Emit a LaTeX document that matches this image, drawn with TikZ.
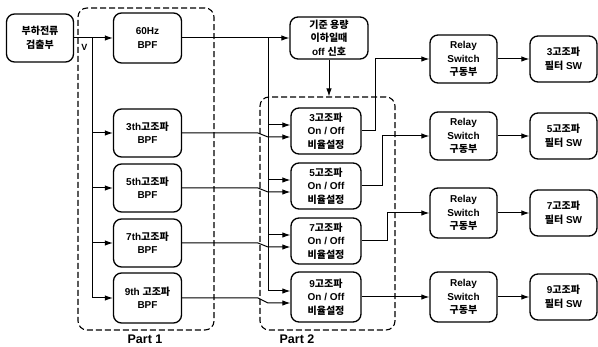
\documentclass[tikz,border=0pt]{standalone}
\usepackage{fontspec}
\setmainfont{Liberation Sans}
\newfontfamily\kr{Noto Sans CJK KR}
\usetikzlibrary{arrows.meta,calc}
\begin{document}
\begin{tikzpicture}[x=1pt,y=-1pt,
  blk/.style={draw,line width=1.3pt,rounded corners=8pt,align=center,inner sep=0pt,
    font=\fontsize{10}{13.5}\selectfont\bfseries,minimum width=68pt,minimum height=48pt},
  partbox/.style={draw,line width=1.1pt,dash pattern=on 6pt off 3pt,rounded corners=9pt,inner sep=0pt},
  arr/.style={line width=1pt,-{Latex[length=8pt,width=5.5pt]}},
  partlab/.style={font=\bfseries\fontsize{12.5}{12.5}\selectfont}]
\useasboundingbox (0,0) rectangle (598,347);

% dashed group boxes
\node[partbox,minimum width=136pt,minimum height=322pt] (p1) at (146,169) {};
\node[partbox,minimum width=135pt,minimum height=233pt] (p2) at (327.5,213.5) {};
\node[partlab] (l1) at (145,339) {Part 1};
\node[partlab] (l2) at (297,339) {Part 2};

% blocks
\node[blk,minimum width=67pt] (det) at (40,38) {{\kr 부하전류}\\{\kr 검출부}};
\node[blk,minimum height=50pt] (bpf60) at (147.5,38) {60Hz\\BPF};
\node[blk] (bpf3) at (147.5,133) {3th{\kr 고조파}\\BPF};
\node[blk] (bpf5) at (147.5,188) {5th{\kr 고조파}\\BPF};
\node[blk] (bpf7) at (147.5,243) {7th{\kr 고조파}\\BPF};
\node[blk,minimum height=50pt] (bpf9) at (147.5,298) {9th {\kr 고조파}\\BPF};

\node[blk,minimum width=78pt,minimum height=42pt] (off) at (329,38) {{\kr 기준 용량}\\{\kr 이하일때}\\off {\kr 신호}};

\node[blk,minimum width=70pt,minimum height=46pt] (on3) at (326,131) {3{\kr 고조파}\\On / Off\\{\kr 비율설정}};
\node[blk,minimum width=70pt,minimum height=46pt] (on5) at (326,186) {5{\kr 고조파}\\On / Off\\{\kr 비율설정}};
\node[blk,minimum width=70pt,minimum height=46pt] (on7) at (326,241) {7{\kr 고조파}\\On / Off\\{\kr 비율설정}};
\node[blk,minimum width=70pt,minimum height=50pt] (on9) at (326,297) {9{\kr 고조파}\\On / Off\\{\kr 비율설정}};

\node[blk,minimum width=67pt] (r1) at (463.5,59) {Relay\\Switch\\{\kr 구동부}};
\node[blk,minimum width=67pt] (r2) at (463.5,136) {Relay\\Switch\\{\kr 구동부}};
\node[blk,minimum width=67pt,minimum height=50pt] (r3) at (463.5,213) {Relay\\Switch\\{\kr 구동부}};
\node[blk,minimum width=67pt,minimum height=50pt] (r4) at (463.5,297) {Relay\\Switch\\{\kr 구동부}};

\node[blk,minimum width=67pt,minimum height=46pt] (s1) at (563.5,59) {3{\kr 고조파}\\{\kr 필터} SW};
\node[blk,minimum width=67pt,minimum height=46pt] (s2) at (563.5,136) {5{\kr 고조파}\\{\kr 필터} SW};
\node[blk,minimum width=67pt,minimum height=46pt] (s3) at (563.5,213) {7{\kr 고조파}\\{\kr 필터} SW};
\node[blk,minimum width=67pt,minimum height=46pt] (s4) at (563.5,297) {9{\kr 고조파}\\{\kr 필터} SW};

% input bus
\draw[arr] (det) -- (bpf60);
\coordinate (bus) at ($(det.east)+(18,0)$);
\node[font=\bfseries\fontsize{9}{9}\selectfont] (vlab) at (84.5,47) {V};
\foreach \b in {bpf3,bpf5,bpf7,bpf9} \draw[arr] (bus) |- (\b.west);

% 60Hz branch
\draw[arr] (bpf60) -- (off);
\coordinate (b60) at (268,38);
\foreach \o in {on3,on5,on7,on9} \draw[arr] (b60) |- ([yshift=6pt]\o.west);

% harmonic inputs with jog
\coordinate (jx) at (258,0);
\coordinate (kx) at (268,0);
\foreach \b/\o in {bpf3/on3,bpf5/on5,bpf7/on7,bpf9/on9}
  \draw[arr] (\b.east) -- (\b.east -| jx) -- ([yshift=-6pt]\o.west -| kx) -- ([yshift=-6pt]\o.west);

% off signal to Part 2
\draw[arr] (off.south) -- (off.south |- p2.north);

% outputs
\draw[arr] (on3.east) -- ++(14,0) |- (r1.west);
\draw[arr] (on5.east) -- ++(21,0) |- (r2.west);
\draw[arr] (on7.east) -- ++(26,0) |- (r3.west);
\draw[arr] (on9) -- (r4);
\foreach \r/\s in {r1/s1,r2/s2,r3/s3,r4/s4} \draw[arr] (\r) -- (\s);
\end{tikzpicture}
\end{document}
